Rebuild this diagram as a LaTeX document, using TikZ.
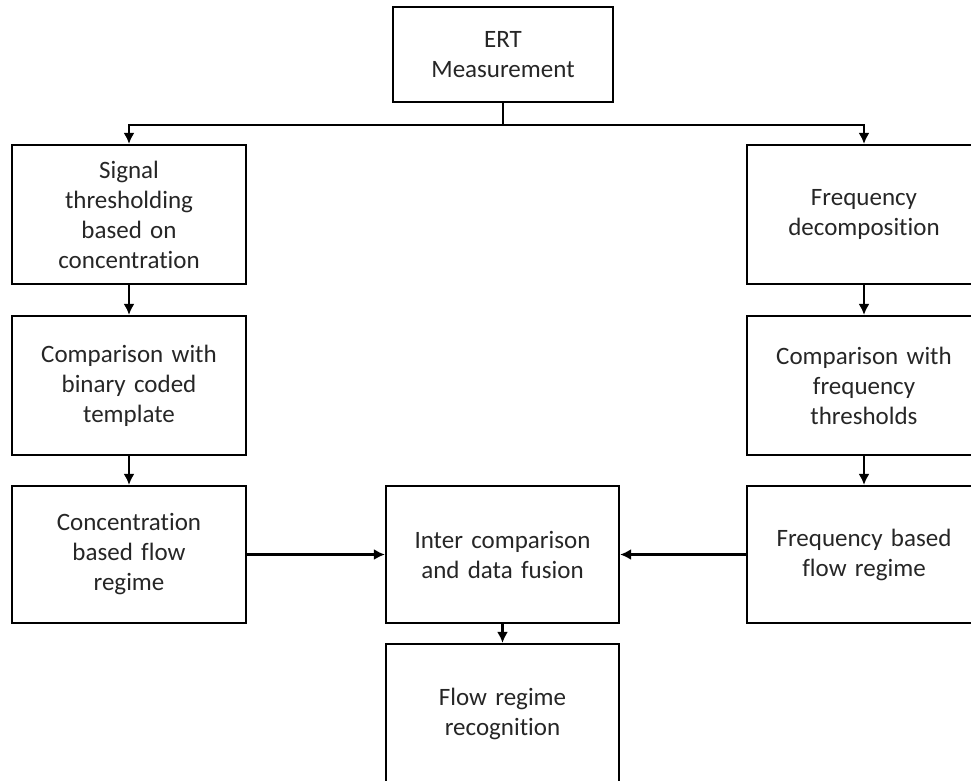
\documentclass[tikz,border=0pt]{standalone}
\usepackage{fontspec}
\setmainfont[Ligatures=NoCommon]{Carlito}
\usepackage{tikz}
\usetikzlibrary{positioning,arrows.meta,calc}
\tikzset{
    block/.style = {
        draw,
        shape=rectangle,
        minimum width=234pt,
        minimum height=139pt,
        text width=220pt,
        align=center,
        inner sep=0pt,
        line width=2.2pt,
        text=black!85,
        font=\fontsize{25pt}{30pt}\selectfont
    },
    link/.style = {
        draw,
        line width=2.2pt
    },
    >={Latex[length=11pt,width=11pt]},
}

\begin{document}
\begin{tikzpicture}[x=1pt,y=-1pt]
    \useasboundingbox (0,0) rectangle (971,780);

    \node[block, minimum width=212pt, minimum height=95pt] (ert) at (503,54.5) {ERT\\Measurement};
    \coordinate (split) at (503,125);

    \node[block] (thresh) at (129,214.5) {Signal\\thresholding\\based on\\concentration};
    \node[block] (bincmp) at (129,385.5) {Comparison with\\binary coded\\template};
    \node[block, minimum height=137pt] (concreg) at (129,554.5) {Concentration\\based flow\\regime};

    \node[block] (decomp) at (864,214.5) {Frequency\\decomposition};
    \node[block] (freqcmp) at (864,385.5) {Comparison with\\frequency\\thresholds};
    \node[block, minimum height=137pt] (freqreg) at (864,554.5) {Frequency based\\flow regime};

    \node[block, minimum width=233pt, minimum height=137pt] (fusion) at (502.5,554.5) {Inter comparison\\and data fusion};
    \node[block, minimum width=233pt] (recog) at (502.5,713.5) {Flow regime\\recognition};

    \path[link] (ert) -- (split);
    \path[link, ->] (split) -| (thresh);
    \path[link, ->] (split) -| (decomp);
    \path[link, ->] (thresh) -- (bincmp);
    \path[link, ->] (bincmp) -- (concreg);
    \path[link, ->] (decomp) -- (freqcmp);
    \path[link, ->] (freqcmp) -- (freqreg);
    \path[link, ->] (concreg) -- (fusion);
    \path[link, ->] (freqreg) -- (fusion);
    \path[link, ->] (fusion) -- (recog);
\end{tikzpicture}
\end{document}
